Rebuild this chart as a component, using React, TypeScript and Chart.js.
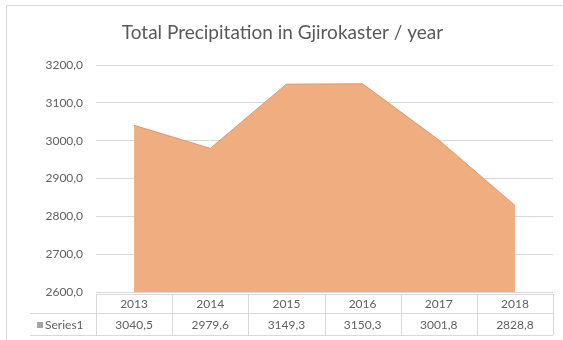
import { useEffect, useRef } from "react";
import { Chart, registerables } from "chart.js";

Chart.register(...registerables);

const titleText = "Total Precipitation in Gjirokaster / year";
const years = ["2013", "2014", "2015", "2016", "2017", "2018"];
const seriesName = "Series1";
const precipitation = [3040.5, 2979.6, 3149.3, 3150.3, 3001.8, 2828.8];
const yMin = 2600;
const yMax = 3200;
const yStep = 100;

const textColor = "#606060";
const lineColor = "#d9d9d9";
const fillColor = "rgb(240,173,128)";
const edgeColor = "rgb(222,150,108)";
const fontFamily = "Lato, 'Open Sans', sans-serif";

// Excel-style number with a decimal comma
const fmt = (v: number) => v.toFixed(1).replace(".", ",");

const frame = (x: number) => Math.round(x) + 0.5;

// Title, outer frame and the data table under the plot
const decorations = {
  id: "decorations",
  beforeDraw(chart: Chart) {
    const { ctx, width, height } = chart;
    ctx.save();
    ctx.fillStyle = "#ffffff";
    ctx.fillRect(0, 0, width, height);
    ctx.restore();
  },
  afterDraw(chart: Chart) {
    const { ctx, chartArea } = chart;
    const xScale = chart.scales.x;
    ctx.save();

    // outer frame
    ctx.strokeStyle = lineColor;
    ctx.lineWidth = 1;
    ctx.beginPath();
    ctx.moveTo(frame(6), chart.height);
    ctx.lineTo(frame(6), frame(5));
    ctx.lineTo(chart.width, frame(5));
    ctx.stroke();

    // title
    ctx.fillStyle = "#595959";
    ctx.font = `19px ${fontFamily}`;
    ctx.textAlign = "center";
    ctx.textBaseline = "middle";
    ctx.fillText(titleText, chart.width / 2 + 1, 33);

    // data table
    const left = chartArea.left;
    const right = chartArea.right;
    const colW = (right - left) / years.length;
    const top = chartArea.bottom + 2;
    const mid = top + 19;
    const bottom = mid + 22;
    const keyLeft = 30;

    ctx.strokeStyle = lineColor;
    ctx.beginPath();
    ctx.moveTo(left, frame(top));
    ctx.lineTo(right, frame(top));
    ctx.moveTo(keyLeft, frame(mid));
    ctx.lineTo(right, frame(mid));
    ctx.moveTo(keyLeft, frame(bottom));
    ctx.lineTo(right, frame(bottom));
    for (let i = 0; i <= years.length; i++) {
      const x = frame(left + i * colW);
      ctx.moveTo(x, top);
      ctx.lineTo(x, bottom);
    }
    ctx.stroke();

    ctx.fillStyle = textColor;
    ctx.font = `12px ${fontFamily}`;
    ctx.textAlign = "center";
    ctx.textBaseline = "middle";
    years.forEach((y, i) => {
      const cx = xScale.getPixelForValue(i);
      ctx.fillText(y, cx, (top + mid) / 2 + 1);
      ctx.fillText(fmt(precipitation[i]), cx, (mid + bottom) / 2 + 1);
    });

    // legend key row
    const rowY = (mid + bottom) / 2 + 1;
    ctx.fillStyle = "#a5a5a5";
    ctx.fillRect(37, rowY - 3, 6, 6);
    ctx.fillStyle = textColor;
    ctx.textAlign = "left";
    ctx.fillText(seriesName, 45, rowY);

    ctx.restore();
  },
};

export default function App() {
  const canvasRef = useRef<HTMLCanvasElement | null>(null);

  useEffect(() => {
    const canvas = canvasRef.current;
    if (!canvas) return;
    const chart = new Chart(canvas, {
      type: "line",
      data: {
        labels: years,
        datasets: [
          {
            label: seriesName,
            data: precipitation,
            fill: "start",
            backgroundColor: fillColor,
            borderColor: edgeColor,
            borderWidth: 1,
            pointRadius: 0,
            tension: 0,
          },
        ],
      },
      options: {
        animation: false,
        responsive: false,
        maintainAspectRatio: false,
        layout: { padding: { left: 0, right: 10, top: 65, bottom: 48 } },
        plugins: {
          legend: { display: false },
          title: { display: false },
          tooltip: { enabled: false },
        },
        scales: {
          x: {
            display: false,
            offset: true,
          },
          y: {
            min: yMin,
            max: yMax,
            afterFit(scale: any) {
              scale.width = 96;
            },
            ticks: {
              stepSize: yStep,
              color: textColor,
              padding: 13,
              font: { family: fontFamily, size: 12 },
              callback: (v: any) => fmt(Number(v)),
            },
            grid: { color: lineColor, drawTicks: false },
            border: { display: false },
          },
        },
      },
      plugins: [decorations],
    });
    return () => chart.destroy();
  }, []);

  return (
    <div style={{ position: "fixed", left: 0, top: 0, width: 563, height: 340, background: "#fff" }}>
      <canvas ref={canvasRef} width={563} height={340} style={{ width: 563, height: 340, display: "block" }} />
    </div>
  );
}
